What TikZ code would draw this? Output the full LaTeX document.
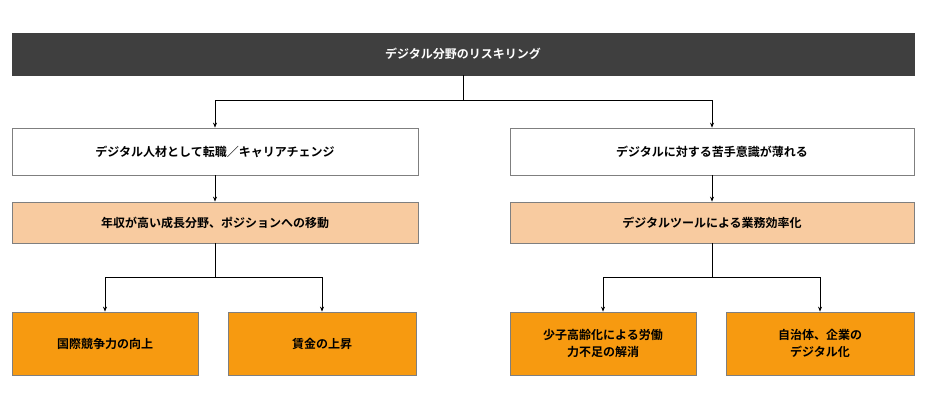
\documentclass[tikz,border=0pt]{standalone}
\usepackage{fontspec}
\newfontfamily\cjk{Noto Sans CJK JP}[BoldFont={Noto Sans CJK JP Bold}]
\usetikzlibrary{arrows.meta}
\definecolor{darkbar}{HTML}{3F3F3F}
\definecolor{peach}{HTML}{F8CBA0}
\definecolor{orng}{HTML}{F79A10}
\definecolor{edge}{HTML}{7F7F7F}
\tikzset{
 box/.style={draw=edge,line width=0.8pt,align=center,font=\cjk\bfseries\fontsize{12}{17}\selectfont,inner sep=0pt},
 conn/.style={line width=0.7pt,black},
 arr/.style={conn,-{Stealth[length=5pt,width=4pt]}}
}
\begin{document}
\begin{tikzpicture}[x=1pt,y=-1pt]
\useasboundingbox (0,0) rectangle (939,405);
\node[box,fill=darkbar,draw=darkbar,text=white,minimum width=902pt,minimum height=42pt] (top) at (463,54) {デジタル分野のリスキリング};
\node[box,fill=white,minimum width=406pt,minimum height=47pt] (l1) at (215,151.5) {デジタル人材として転職／キャリアチェンジ};
\node[box,fill=white,minimum width=404pt,minimum height=47pt] (r1) at (712,151.5) {デジタルに対する苦手意識が薄れる};
\node[box,fill=peach,minimum width=406pt,minimum height=41pt] (l2) at (215,222.5) {年収が高い成長分野、ポジションへの移動};
\node[box,fill=peach,minimum width=404pt,minimum height=41pt] (r2) at (712,222.5) {デジタルツールによる業務効率化};
\node[box,fill=orng,minimum width=186pt,minimum height=63pt] (a) at (105,343.5) {国際競争力の向上};
\node[box,fill=orng,minimum width=188pt,minimum height=63pt] (b) at (322,343.5) {賃金の上昇};
\node[box,fill=orng,minimum width=186pt,minimum height=63pt] (c) at (603,343.5) {少子高齢化による労働\\力不足の解消};
\node[box,fill=orng,minimum width=188pt,minimum height=63pt] (d) at (820,343.5) {自治体、企業の\\デジタル化};
\coordinate (j0) at (463,100);
\coordinate (j1) at (215,277);
\coordinate (j2) at (712,277);
\draw[conn] (top.south) -- (j0);
\draw[arr] (j0) -| (l1.north);
\draw[arr] (j0) -| (r1.north);
\draw[arr] (l1.south) -- (l2.north);
\draw[arr] (r1.south) -- (r2.north);
\draw[conn] (l2.south) -- (j1);
\draw[conn] (r2.south) -- (j2);
\draw[arr] (j1) -| (a.north);
\draw[arr] (j1) -| (b.north);
\draw[arr] (j2) -| (c.north);
\draw[arr] (j2) -| (d.north);
\end{tikzpicture}
\end{document}
